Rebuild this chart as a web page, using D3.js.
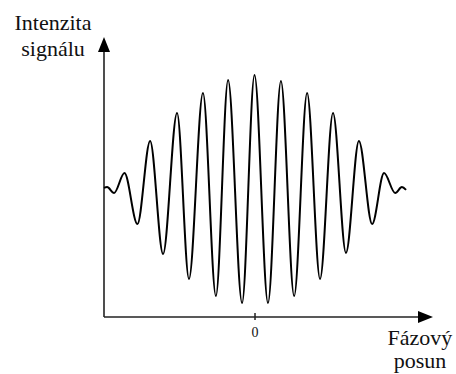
<!DOCTYPE html>
<html>
<head>
<meta charset="utf-8">
<script src="https://cdn.jsdelivr.net/npm/d3@7"></script>
<style>
  body { margin: 0; background: #fff; }
</style>
</head>
<body>
<script>
// interferogram: extremes of the signal, phase in periods
var phase = [-5.81, -5.69, -5.42, -5.02, -4.52, -4.03, -3.53, -2.99, -2.53, -1.99,
             -1.49, -1.02, -0.48, 0, 0.52, 1.02, 1.53, 2.03, 2.53, 3.03,
             3.53, 4.03, 4.54, 5.0, 5.43, 5.69, 5.85]
var intensity = [46.1, 46.4, 44.3, 51.4, 33.2, 62.9, 22.5, 72.9, 13.6, 80.0,
                 7.5, 84.6, 5.0, 86.4, 5.0, 84.3, 7.5, 80.0, 13.6, 72.9,
                 22.9, 62.9, 33.2, 51.4, 44.3, 46.4, 45.4]
var xTicks = [0]
var xTickLabels = ["0"]
var yTitle = ["Intenzita", "signálu"]
var xTitle = ["Fázový", "posun"]

var serif = '"Liberation Serif", "Times New Roman", "DejaVu Serif", serif'
var width = 456, height = 374
var margin = {top: 37, right: 23, bottom: 57, left: 104}

var x = d3.scaleLinear().domain([-5.81, 6.89]).range([margin.left, width - margin.right])
var y = d3.scaleLinear().domain([0, 100]).range([height - margin.bottom, margin.top])

var data = phase.map(function (p, i) { return {p: p, v: intensity[i]} })

var svg = d3.select('body').append('svg')
    .attr('width', width)
    .attr('height', height)

// x axis with the single 0 tick
var xAxis = d3.axisBottom(x)
    .tickValues(xTicks)
    .tickFormat(function (d, i) { return xTickLabels[i] })
    .tickSize(3)
    .tickPadding(7)

var gx = svg.append('g')
    .attr('transform', 'translate(0,' + y(0) + ')')
    .call(xAxis)
gx.select('.domain').remove()
gx.selectAll('.tick line').attr('y1', -4).attr('stroke', '#222').attr('stroke-width', 1.5)
gx.selectAll('.tick text')
    .style('font-family', serif)
    .style('font-size', '14px')
    .attr('fill', '#111')

// axis lines
svg.append('line')
    .attr('x1', x(-5.81)).attr('x2', x(6.89) - 12)
    .attr('y1', y(0)).attr('y2', y(0))
    .attr('stroke', '#222').attr('stroke-width', 1.6)
svg.append('line')
    .attr('x1', x(-5.81)).attr('x2', x(-5.81))
    .attr('y1', y(0)).attr('y2', y(100) + 12)
    .attr('stroke', '#222').attr('stroke-width', 1.6)

// arrow heads
var ax = x(6.89), ay = y(0)
svg.append('path')
    .attr('d', 'M' + ax + ',' + ay + 'L' + (ax - 15) + ',' + (ay - 6) + 'L' + (ax - 15) + ',' + (ay + 6) + 'Z')
    .attr('fill', '#000')
var bx = x(-5.81), by = y(100)
svg.append('path')
    .attr('d', 'M' + bx + ',' + by + 'L' + (bx - 6) + ',' + (by + 15) + 'L' + (bx + 6) + ',' + (by + 15) + 'Z')
    .attr('fill', '#000')

// signal
var line = d3.line()
    .x(function (d) { return x(d.p) })
    .y(function (d) { return y(d.v) })
    .curve(d3.curveMonotoneX)

svg.append('path')
    .datum(data)
    .attr('d', line)
    .attr('fill', 'none')
    .attr('stroke', '#000')
    .attr('stroke-width', 2)

// titles
svg.selectAll('.ytitle')
    .data(yTitle)
    .enter().append('text')
    .attr('class', 'ytitle')
    .attr('x', 53)
    .attr('y', function (d, i) { return 30 + i * 26 })
    .attr('text-anchor', 'middle')
    .style('font-family', serif)
    .style('font-size', '22px')
    .attr('fill', '#111')
    .text(function (d) { return d })

svg.selectAll('.xtitle')
    .data(xTitle)
    .enter().append('text')
    .attr('class', 'xtitle')
    .attr('x', 420)
    .attr('y', function (d, i) { return 345 + i * 23 })
    .attr('text-anchor', 'middle')
    .style('font-family', serif)
    .style('font-size', '22px')
    .attr('fill', '#111')
    .text(function (d) { return d })
</script>
</body>
</html>
